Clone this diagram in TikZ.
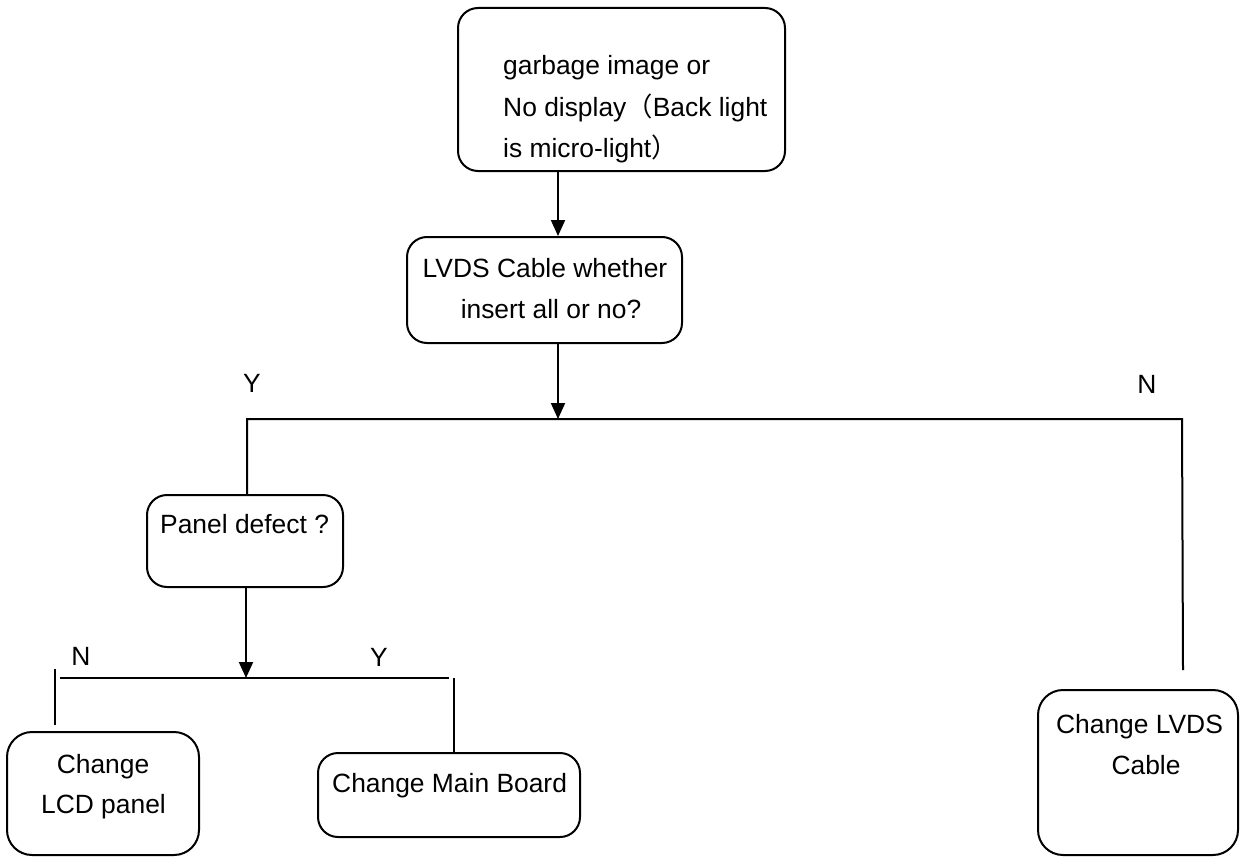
\documentclass[tikz,border=0pt]{standalone}
\usepackage{fontspec}
\setmainfont{Liberation Sans}
\newfontfamily\cjkfont{Noto Sans CJK SC}
\usetikzlibrary{arrows.meta}
\tikzset{
  box/.style={draw, line width=2pt, rounded corners=20pt, inner sep=0pt},
  bigbox/.style={box, rounded corners=25pt},
  txt/.style={inner sep=0pt, font=\fontsize{26.4}{41}\selectfont},
  lab/.style={txt},
  conn/.style={line width=2pt},
  arr/.style={conn, -{Triangle[length=16pt,width=14pt]}}
}
\begin{document}
\begin{tikzpicture}[x=1pt,y=-1pt]
\useasboundingbox[fill=white] (0,0) rectangle (1241,856);
% boxes
\node[box, minimum width=327pt, minimum height=163pt] (top) at (621.5,89.5) {};
\node[box, minimum width=275pt, minimum height=106pt] (lvds) at (544.5,290) {};
\node[box, minimum width=196pt, minimum height=92pt] (panel) at (245,541) {};
\node[bigbox, minimum width=192pt, minimum height=123pt] (lcd) at (103,793.5) {};
\node[box, minimum width=262pt, minimum height=84pt] (main) at (449,795) {};
\node[bigbox, minimum width=200pt, minimum height=165pt] (cable) at (1138,772.5) {};
% texts
\node[txt, anchor=base west] (t1) at (503,75) {garbage image or};
\node[txt, anchor=base west] (t2) at (503,117) {No display{\cjkfont （}Back light};
\node[txt, anchor=base west] (t3) at (503,157) {is micro-light{\cjkfont ）}};
\node[txt, anchor=base] (l1) at (545,277) {LVDS Cable whether};
\node[txt, anchor=base] (l2) at (551,318) {insert all or no?};
\node[txt, anchor=base west] (p1) at (160,533) {Panel defect ?};
\node[txt, anchor=base] (c1) at (103,773) {Change};
\node[txt, anchor=base] (c2) at (103.5,813) {LCD panel};
\node[txt, anchor=base west] (m1) at (332,792) {Change Main Board};
\node[txt, anchor=base] (v1) at (1139.5,733) {Change LVDS};
\node[txt, anchor=base] (v2) at (1146,774) {Cable};
% branch labels
\node[lab] (y1) at (252,383) {Y};
\node[lab] (n1) at (1147,384) {N};
\node[lab] (n2) at (81,656) {N};
\node[lab] (y2) at (379,657) {Y};
% junction coordinates
\coordinate (ax) at (558,0);
\coordinate (j1) at (558,419);
\coordinate (jl) at (247,419);
\coordinate (jr) at (1182,419);
\coordinate (jre) at (1183,670);
\coordinate (j2) at (246,678);
\coordinate (hl) at (60,678);
\coordinate (hr) at (449,678);
\coordinate (sl1) at (55,669);
\coordinate (sl2) at (55,725);
\coordinate (mr) at (454,678);
% connectors
\draw[arr] (top.south -| ax) -- (lvds.north -| ax);
\draw[arr] (lvds.south -| ax) -- (j1);
\draw[conn] (panel.north -| jl) -- (jl) -- (jr) -- (jre);
\draw[arr] (panel.south -| j2) -- (j2);
\draw[conn] (hl) -- (hr);
\draw[conn] (sl1) -- (sl2);
\draw[conn] (mr) -- (main.north -| mr);
\end{tikzpicture}
\end{document}
